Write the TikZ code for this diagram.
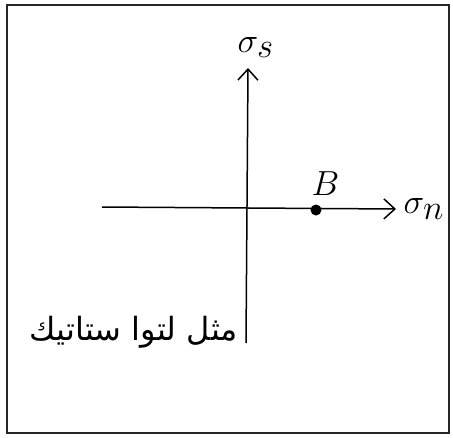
\documentclass[tikz,border=0pt]{standalone}
\usepackage{fontspec}
\usetikzlibrary{arrows.meta, positioning}
\newfontfamily\arabicfont[Script=Arabic]{DejaVu Sans}
\TeXXeTstate=1
\tikzset{
  axis/.style={line width=1.5pt, -{Straight Barb[length=11pt,width=20pt,line width=1.5pt]}},
  frame/.style={draw=black!85, line width=1.2pt},
  point/.style={circle, fill=black, inner sep=0pt, minimum size=11pt},
  axislabel/.style={font=\fontsize{24}{28}\selectfont, scale=1.4, transform shape, inner sep=1pt},
  note/.style={font=\arabicfont\fontsize{32}{38}\selectfont, inner sep=0pt}
}

\begin{document}
\begin{tikzpicture}[x=1pt, y=-1pt]
\useasboundingbox (0,0) rectangle (453,437);
\draw[frame] (7,5) rectangle (449,433);
% axes
\coordinate (o) at (247,208);
\coordinate (xl) at (102,207);
\coordinate (xr) at (396,209);
\coordinate (yb) at (246,343);
\coordinate (yt) at (248,68);
\draw[axis] (xl) -- (xr);
\draw[axis] (yb) -- (yt);
\node[point] (b) at (316,210) {};
\node[axislabel, above right=9pt and -10pt of b] (blabel) {$B$};
\node[axislabel, right=6pt of xr] (sn) {$\sigma_{\textstyle n}$};
\node[axislabel, above right=9pt and -12pt of yt] (ss) {$\sigma_{\textstyle s}$};
\node[note, anchor=base east] (txt) at ([xshift=-8pt, yshift=3pt]yb) {\beginR مثل لتوا ستاتيك\endR};
\end{tikzpicture}
\end{document}
